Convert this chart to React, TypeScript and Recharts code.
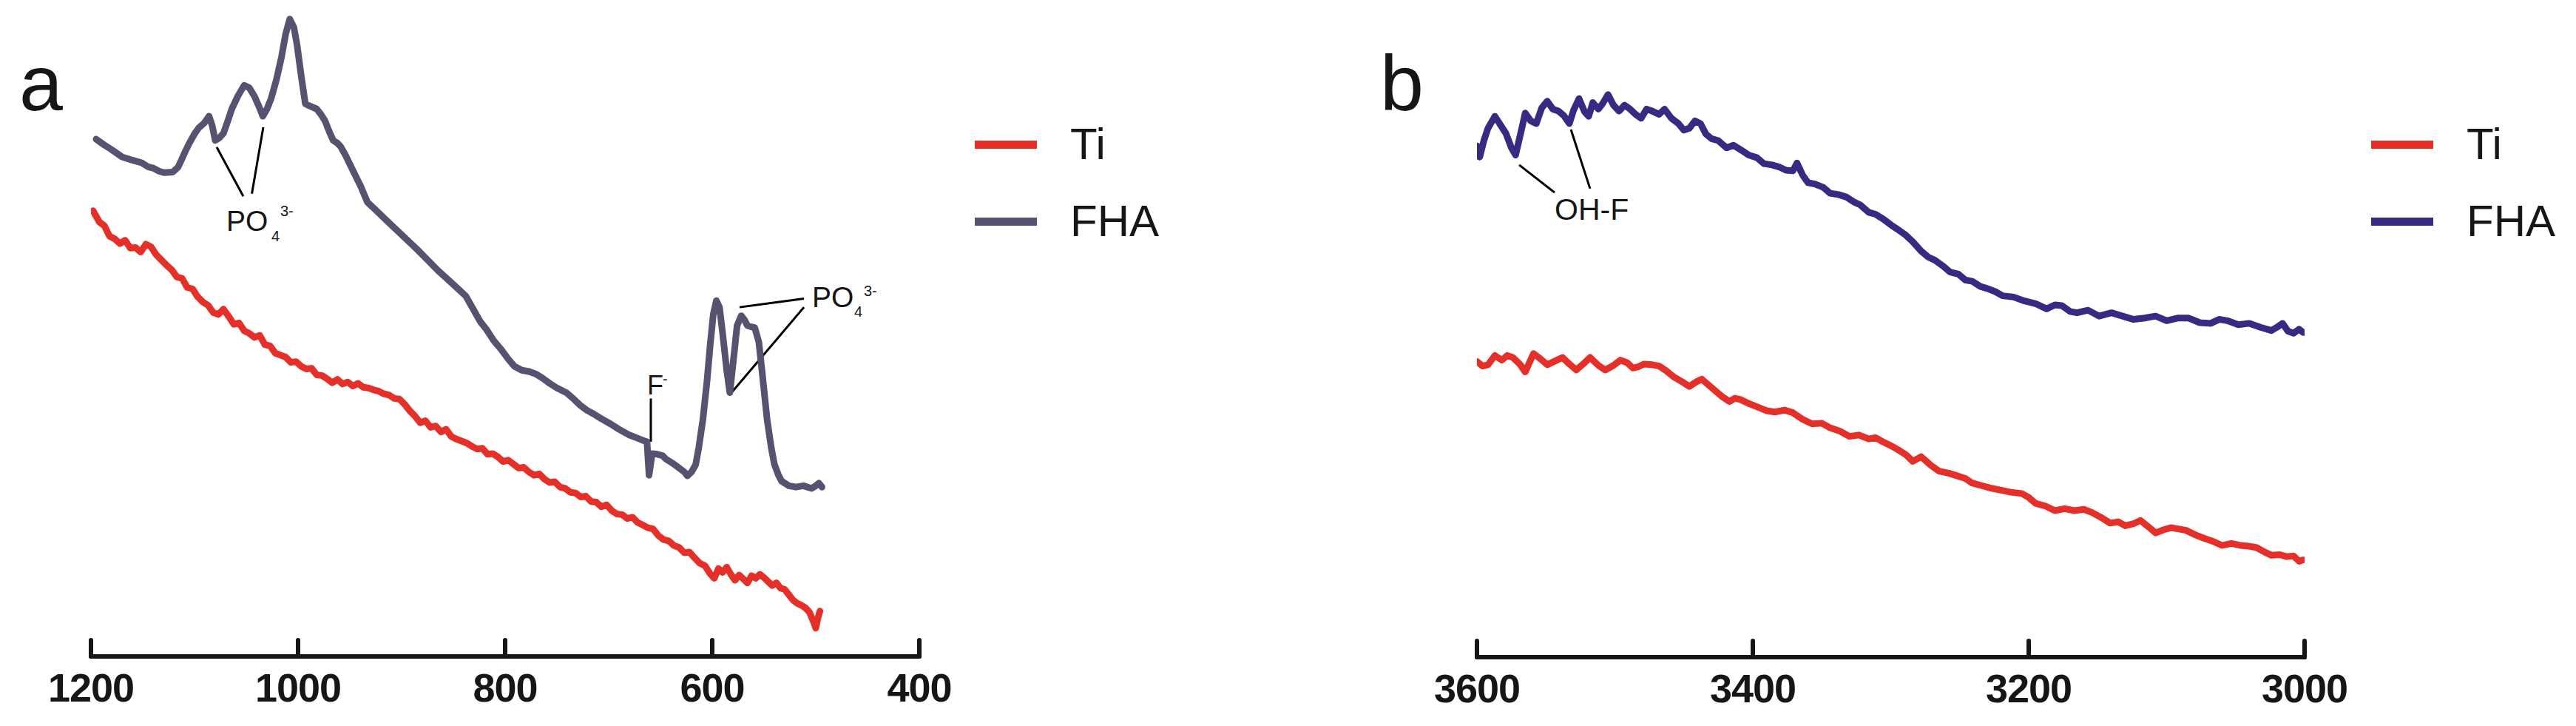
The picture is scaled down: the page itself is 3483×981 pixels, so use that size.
import { LineChart, Line, XAxis, YAxis, Legend, ReferenceLine } from "recharts";

// ---- panel a : 1200-400 cm-1 ----
const wnTiA = [1198, 1192, 1187, 1182, 1177, 1172, 1167, 1162, 1157, 1152, 1147, 1142, 1137, 1132, 1127, 1122, 1117, 1112, 1107, 1102, 1097, 1092, 1087, 1082, 1077, 1072, 1067, 1062, 1057, 1052, 1047, 1042, 1037, 1032, 1027, 1022, 1017, 1012, 1007, 1002, 997, 992, 987, 982, 977, 972, 967, 962, 957, 952, 947, 942, 937, 932, 927, 922, 917, 912, 907, 902, 897, 892, 887, 882, 877, 872, 867, 862, 857, 852, 847, 842, 837, 832, 827, 822, 817, 812, 807, 802, 797, 792, 787, 782, 777, 772, 767, 762, 757, 752, 747, 742, 737, 732, 727, 722, 717, 712, 707, 702, 697, 692, 687, 682, 677, 672, 667, 662, 657, 652, 647, 642, 637, 632, 627, 622, 617, 612, 607, 602, 598, 594, 590, 586, 582, 578, 574, 570, 566, 562, 558, 554, 550, 546, 542, 538, 534, 530, 526, 522, 518, 514, 510, 506, 502, 500, 498, 496];
const tiA = [67.9, 66.2, 65.6, 64.0, 63.6, 62.9, 63.4, 62.2, 62.3, 61.6, 62.8, 62.4, 61.2, 60.4, 59.6, 58.9, 57.8, 57.6, 56.2, 56.0, 54.8, 54.0, 53.5, 52.4, 52.1, 52.9, 51.8, 50.6, 50.8, 49.6, 49.2, 48.6, 48.9, 47.5, 47.3, 46.2, 45.9, 45.6, 44.8, 44.9, 44.2, 43.8, 43.9, 42.9, 42.8, 42.3, 41.7, 42.2, 41.5, 41.8, 41.2, 41.6, 41.0, 40.9, 40.6, 40.4, 40.0, 39.8, 39.3, 39.2, 38.4, 37.4, 36.6, 35.6, 35.9, 34.9, 35.1, 34.2, 34.6, 33.5, 33.1, 32.8, 32.5, 32.0, 31.6, 31.7, 30.8, 30.9, 30.4, 29.7, 29.9, 29.3, 28.7, 28.8, 28.1, 27.6, 27.8, 27.0, 26.5, 26.6, 25.8, 25.6, 25.0, 24.9, 24.3, 24.4, 23.6, 23.5, 22.8, 23.1, 22.2, 21.7, 21.6, 21.0, 21.2, 20.4, 20.0, 19.6, 19.4, 18.4, 17.8, 17.6, 16.9, 16.6, 15.8, 15.9, 15.0, 14.2, 13.8, 12.6, 11.9, 13.4, 12.8, 13.6, 12.5, 11.6, 12.4, 11.8, 11.2, 12.3, 11.9, 12.5, 12.0, 11.4, 10.8, 11.2, 10.4, 10.2, 9.4, 8.6, 8.1, 7.8, 7.4, 6.7, 5.2, 4.3, 5.8, 6.9];

const wnFhaA = [1195, 1187, 1180, 1170, 1160, 1151, 1145, 1140, 1134, 1129, 1121, 1116, 1113, 1109, 1105, 1100, 1096, 1091, 1086, 1083, 1080, 1076, 1072, 1068, 1064, 1058, 1052, 1047, 1042, 1037, 1034, 1030, 1026, 1021, 1016, 1012, 1008, 1004, 1001, 997, 993, 988, 982, 978, 974, 970, 966, 962, 959, 954, 950, 946, 940, 933, 925, 915, 905, 895, 885, 878, 865, 851, 838, 824, 818, 811, 804, 797, 791, 784, 777, 770, 764, 757, 750, 741, 733, 727, 721, 714, 707, 698, 690, 681, 673, 665, 663, 661, 658, 653, 648, 645, 638, 632, 627, 624, 620, 616, 613, 609, 605, 602, 599, 596, 593, 590, 586, 583, 579, 576, 572, 569, 566, 562, 559, 555, 552, 547, 543, 540, 536, 533, 526, 519, 512, 504, 500, 497, 494];
const fhaA = [78.8, 77.9, 77.2, 76.1, 75.6, 75.2, 74.6, 74.4, 73.9, 73.7, 73.8, 74.5, 75.5, 76.9, 78.2, 79.6, 80.5, 81.2, 82.3, 80.9, 78.6, 79.0, 79.7, 81.5, 83.4, 85.4, 87.0, 86.6, 85.3, 83.5, 82.3, 83.4, 85.0, 87.8, 91.3, 94.8, 97.1, 95.8, 93.2, 88.5, 84.2, 83.8, 83.4, 82.6, 81.6, 80.0, 78.6, 78.2, 77.7, 76.3, 75.0, 73.7, 71.8, 69.2, 68.0, 66.5, 65.0, 63.5, 62.0, 60.9, 58.8, 56.8, 54.9, 51.0, 49.8, 48.1, 46.8, 45.3, 44.2, 43.6, 43.4, 43.0, 42.4, 41.6, 40.9, 40.2, 39.1, 38.2, 37.5, 36.9, 36.2, 35.4, 34.6, 33.8, 33.3, 32.8, 32.7, 27.6, 30.9, 30.8, 30.6, 30.1, 29.4, 28.7, 28.1, 27.5, 28.1, 29.2, 31.8, 36.1, 42.0, 47.4, 52.1, 54.2, 53.2, 49.3, 43.6, 40.2, 45.9, 50.4, 51.9, 51.3, 50.4, 50.2, 50.1, 47.9, 43.6, 36.1, 31.8, 29.3, 27.6, 26.7, 26.0, 25.8, 26.0, 25.6, 26.0, 26.4, 25.8];

// ---- panel b : 3600-3000 cm-1 ----
const wnTiB = [3600, 3596, 3592, 3587, 3582, 3578, 3574, 3569, 3565, 3562, 3559, 3554, 3549, 3544, 3538, 3533, 3528, 3523, 3518, 3512, 3507, 3501, 3496, 3491, 3487, 3483, 3479, 3473, 3468, 3463, 3457, 3452, 3446, 3441, 3437, 3432, 3427, 3422, 3417, 3413, 3409, 3403, 3397, 3390, 3384, 3377, 3371, 3364, 3357, 3350, 3344, 3337, 3330, 3323, 3316, 3311, 3306, 3300, 3295, 3289, 3284, 3278, 3271, 3265, 3258, 3252, 3246, 3241, 3234, 3227, 3220, 3213, 3205, 3200, 3195, 3188, 3181, 3174, 3167, 3160, 3154, 3147, 3141, 3135, 3130, 3124, 3119, 3113, 3108, 3102, 3097, 3091, 3086, 3079, 3073, 3066, 3060, 3053, 3046, 3041, 3035, 3029, 3024, 3018, 3013, 3008, 3004, 3001];
const tiB = [45.0, 44.3, 44.5, 45.9, 45.2, 45.9, 45.6, 44.6, 43.4, 44.8, 46.2, 45.4, 44.5, 45.0, 45.6, 44.6, 43.7, 44.6, 45.6, 44.4, 43.7, 44.4, 45.2, 44.8, 44.0, 44.2, 44.6, 44.5, 44.3, 43.6, 42.6, 42.0, 41.2, 41.9, 42.3, 41.4, 40.5, 39.6, 38.9, 39.4, 39.2, 38.6, 38.1, 37.5, 37.3, 37.6, 37.2, 36.2, 35.5, 35.6, 34.9, 34.4, 33.6, 33.8, 33.2, 33.4, 32.8, 32.2, 31.6, 30.8, 29.8, 30.5, 29.2, 28.3, 28.0, 27.6, 27.2, 26.5, 26.1, 25.7, 25.4, 25.1, 24.9, 24.3, 23.4, 23.0, 22.3, 22.6, 22.3, 22.5, 22.0, 21.2, 20.4, 20.6, 20.0, 20.3, 20.8, 19.8, 18.9, 19.4, 19.7, 19.5, 19.3, 18.6, 18.1, 17.6, 17.0, 17.3, 17.0, 16.9, 16.7, 16.0, 15.5, 15.6, 15.3, 15.4, 14.6, 14.8];

const wnFhaB = [3600, 3598, 3595, 3592, 3587, 3583, 3579, 3575, 3572, 3568, 3565, 3561, 3557, 3553, 3549, 3545, 3541, 3537, 3533, 3530, 3526, 3522, 3519, 3516, 3512, 3509, 3505, 3501, 3497, 3493, 3489, 3485, 3481, 3477, 3473, 3468, 3464, 3459, 3454, 3450, 3446, 3442, 3438, 3434, 3430, 3425, 3419, 3414, 3408, 3403, 3397, 3392, 3386, 3381, 3376, 3371, 3368, 3364, 3360, 3355, 3349, 3344, 3338, 3332, 3327, 3322, 3316, 3311, 3305, 3300, 3295, 3289, 3284, 3278, 3273, 3268, 3262, 3257, 3251, 3246, 3241, 3235, 3230, 3224, 3219, 3211, 3203, 3195, 3187, 3181, 3176, 3170, 3165, 3157, 3149, 3140, 3132, 3124, 3116, 3108, 3100, 3092, 3084, 3076, 3068, 3062, 3056, 3048, 3040, 3032, 3024, 3020, 3016, 3012, 3008, 3004, 3001];
const fhaB = [77.8, 76.1, 78.6, 80.5, 82.3, 81.0, 79.7, 77.5, 76.4, 80.0, 82.8, 81.6, 81.2, 83.6, 84.6, 83.4, 83.1, 82.4, 81.2, 83.2, 85.0, 83.0, 82.3, 84.4, 83.4, 84.2, 85.6, 84.0, 83.1, 84.0, 83.4, 82.6, 82.0, 83.4, 83.1, 82.6, 83.4, 82.0, 81.2, 80.2, 80.5, 81.6, 81.2, 79.6, 78.9, 78.6, 77.5, 77.9, 77.1, 76.4, 76.0, 75.1, 74.9, 74.6, 74.1, 74.0, 75.2, 73.4, 72.2, 72.0, 71.5, 70.6, 70.4, 70.0, 69.3, 68.8, 67.7, 67.4, 66.6, 65.8, 65.1, 64.2, 63.2, 61.8, 60.9, 60.4, 59.5, 58.6, 58.3, 57.4, 57.2, 56.4, 56.1, 55.6, 55.0, 54.8, 54.2, 53.8, 53.0, 53.6, 53.5, 52.6, 52.4, 52.8, 51.9, 52.4, 51.9, 51.4, 51.6, 51.9, 51.2, 51.6, 51.6, 50.9, 50.8, 51.4, 51.2, 50.6, 50.8, 50.2, 49.7, 50.2, 50.8, 49.6, 49.3, 49.9, 49.4];

const ticksA = [1200, 1000, 800, 600, 400];
const ticksB = [3600, 3400, 3200, 3000];
const seriesOrder = ["Ti", "FHA"];

// peak markers (wavenumber, a.u.)
const po4LeftLines = [
  [{ x: 1078.6, y: 77.6 }, { x: 1052.9, y: 70.1 }],
  [{ x: 1033.6, y: 80.6 }, { x: 1044.6, y: 70.5 }],
];
const po4RightLines = [
  [{ x: 573.6, y: 53.2 }, { x: 511.4, y: 54.5 }],
  [{ x: 511.4, y: 53.2 }, { x: 582.9, y: 39.9 }],
];
const fLine = [{ x: 659.3, y: 39.3 }, { x: 659.3, y: 32.7 }];
const ohfLines = [
  [{ x: 3569.4, y: 74.9 }, { x: 3543.7, y: 70.7 }],
  [{ x: 3531.9, y: 80.3 }, { x: 3518.0, y: 71.3 }],
];

const zip = (xs: number[], ys: number[]) => xs.map((wn, i) => ({ wn, v: ys[i] }));

const RED = "#e5302a";
const FHA_A = "#57526f";
const FHA_B = "#3a2982";
const INK = "#161616";
const FONT = "'Liberation Sans', Arial, sans-serif";

const axisTick = (props: any) => {
  const { x, y, payload } = props;
  return (
    <g>
      <line x1={x} x2={x} y1={y} y2={y - 22} stroke={INK} strokeWidth={6} strokeLinecap="round" />
      <text x={x} y={y + 61} textAnchor="middle" fontFamily={FONT} fontWeight="bold" fontSize={54} letterSpacing={-1} fill={INK}>
        {payload.value}
      </text>
    </g>
  );
};

const legendContent = (props: any) => {
  const items = [...(props.payload || [])].sort(
    (a: any, b: any) => seriesOrder.indexOf(a.value) - seriesOrder.indexOf(b.value)
  );
  return (
    <div style={{ display: "flex", flexDirection: "column" }}>
      {items.map((p: any) => (
        <div key={p.value} style={{ height: 104, display: "flex", alignItems: "center" }}>
          <span style={{ display: "inline-block", width: 84, height: 11, background: p.color }} />
          <span style={{ marginLeft: 45, fontSize: 60, lineHeight: 1, fontFamily: FONT, color: INK }}>{p.value}</span>
        </div>
      ))}
    </div>
  );
};

function Panel({ left, width, margin, axisH, domain, ticks, ti, fha, fhaColor, legendLeft, marks }: any) {
  return (
    <div style={{ position: "absolute", left, top: 0 }}>
      <LineChart width={width} height={981} margin={margin}>
        <XAxis
          dataKey="wn"
          type="number"
          domain={domain}
          ticks={ticks}
          reversed
          allowDataOverflow
          height={axisH}
          tickSize={0}
          tickMargin={0}
          tickLine={false}
          axisLine={{ stroke: INK, strokeWidth: 6, strokeLinecap: "round" }}
          tick={axisTick}
          interval={0}
        />
        <YAxis hide type="number" domain={[0, 100]} allowDataOverflow />
        <Legend
          layout="vertical"
          align="center"
          verticalAlign="middle"
          content={legendContent}
          wrapperStyle={{ left: legendLeft, top: 143, width: "auto" }}
        />
        {marks.map((seg: any, i: number) => (
          <ReferenceLine key={i} segment={seg} stroke="#000" strokeWidth={3} ifOverflow="visible" />
        ))}
        <Line data={ti} dataKey="v" name="Ti" type="linear" stroke={RED} strokeWidth={9} strokeLinejoin="round" strokeLinecap="round" dot={false} isAnimationActive={false} />
        <Line data={fha} dataKey="v" name="FHA" type="linear" stroke={fhaColor} strokeWidth={9} strokeLinejoin="round" strokeLinecap="round" dot={false} isAnimationActive={false} />
      </LineChart>
    </div>
  );
}

export default function App() {
  return (
    <div style={{ position: "absolute", left: 0, top: 0, width: 3483, height: 981, background: "#fff", overflow: "hidden" }}>
      <Panel
        left={0}
        width={1320}
        margin={{ top: 0, right: 77, bottom: 0, left: 123 }}
        axisH={94}
        domain={[400, 1200]}
        ticks={ticksA}
        ti={zip(wnTiA, tiA)}
        fha={zip(wnFhaA, fhaA)}
        fhaColor={FHA_A}
        legendLeft={1318}
        marks={[...po4LeftLines, ...po4RightLines, fLine]}
      />
      <Panel
        left={1900}
        width={1583}
        margin={{ top: 0, right: 367, bottom: 0, left: 97 }}
        axisH={93}
        domain={[3000, 3600]}
        ticks={ticksB}
        ti={zip(wnTiB, tiB)}
        fha={zip(wnFhaB, fhaB)}
        fhaColor={FHA_B}
        legendLeft={1306}
        marks={ohfLines}
      />
      <svg width={3483} height={981} style={{ position: "absolute", left: 0, top: 0, pointerEvents: "none" }} fontFamily={FONT} fill={INK}>
        <text x={26} y={149} fontSize={106}>a</text>
        <text x={1866} y={149} fontSize={106}>b</text>
        <text x={306} y={312} fontSize={39}>PO</text>
        <text x={367} y={326} fontSize={20}>4</text>
        <text x={379} y={292} fontSize={20}>3-</text>
        <text x={1098} y={415} fontSize={39}>PO</text>
        <text x={1155} y={428} fontSize={20}>4</text>
        <text x={1168} y={400} fontSize={20}>3-</text>
        <text x={875} y={533} fontSize={36}>F</text>
        <text x={896} y={519} fontSize={20}>-</text>
        <text x={2102} y={297} fontSize={41}>OH-F</text>
      </svg>
    </div>
  );
}
